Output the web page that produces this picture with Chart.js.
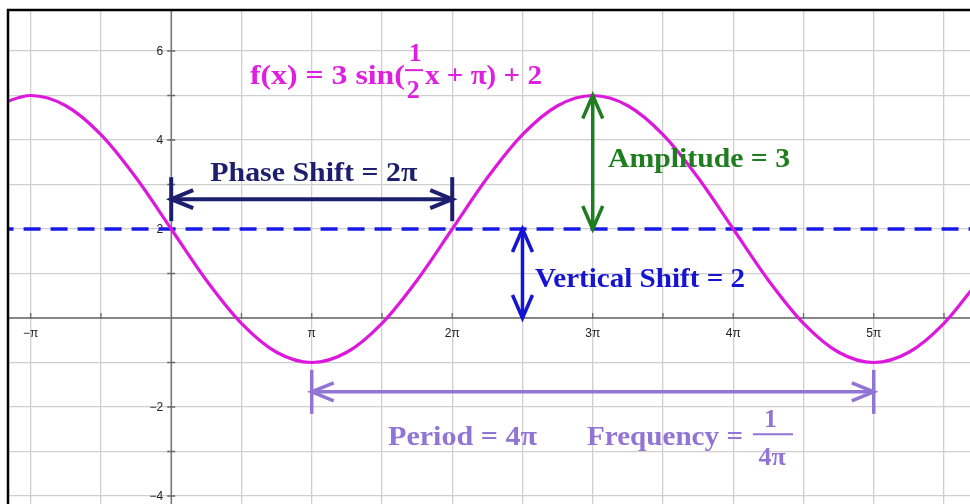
<!DOCTYPE html>
<html>
<head>
<meta charset="utf-8">
<script src="https://cdn.jsdelivr.net/npm/chart.js@4.4.1/dist/chart.umd.min.js"></script>
<style>
  html, body { margin: 0; padding: 0; background: #fff; }
  #wrap { width: 970px; height: 504px; position: relative; }
</style>
</head>
<body>
<div id="wrap"><canvas id="grafica"></canvas></div>
<script>
// Valores, x en unidades de pi
const xPi = [-1.25, -1, -0.75, -0.5, -0.25, 0, 0.25, 0.5, 0.75, 1, 1.25, 1.5, 1.75, 2, 2.25,
             2.5, 2.75, 3, 3.25, 3.5, 3.75, 4, 4.25, 4.5, 4.75, 5, 5.25, 5.5, 5.75];
const fx = [4.77, 5, 4.77, 4.12, 3.15, 2, 0.85, -0.12, -0.77, -1, -0.77, -0.12, 0.85, 2, 3.15,
            4.12, 4.77, 5, 4.77, 4.12, 3.15, 2, 0.85, -0.12, -0.77, -1, -0.77, -0.12, 0.85];

// línea media (desplazamiento vertical)
const midX = [-1.25, 5.75];
const midY = [2, 2];

// cuadrícula y etiquetas
const xGrid = [-1, -0.5, 0, 0.5, 1, 1.5, 2, 2.5, 3, 3.5, 4, 4.5, 5, 5.5];
const yGrid = [-4, -3, -2, -1, 0, 1, 2, 3, 4, 5, 6];
const xTickAt = [-1, 1, 2, 3, 4, 5];
const xTickLabels = ["\u2212\u03c0", "\u03c0", "2\u03c0", "3\u03c0", "4\u03c0", "5\u03c0"];
const yTickAt = [6, 4, 2, -2, -4];
const yTickLabels = ["6", "4", "2", "\u22122", "\u22124"];

// parámetros de la función
const amplitude = 3;
const verticalShift = 2;
const phaseShift = 2;
const period = 4;

const SERIF = '"Liberation Serif", "DejaVu Serif", serif';
const SANS = '"Liberation Sans", Arial, sans-serif';

// Texto en negrita ajustado a un ancho
function texto(ctx, str, x, y, ancho, size, color, centrado) {
    ctx.save();
    ctx.font = `bold ${size}px ${SERIF}`;
    ctx.fillStyle = color;
    ctx.textBaseline = "alphabetic";
    const w = ctx.measureText(str).width;
    const k = ancho ? ancho / w : 1;
    const x0 = centrado ? x - w * k / 2 : x;
    ctx.translate(x0, y);
    ctx.scale(k, 1);
    ctx.fillText(str, 0, 0);
    ctx.restore();
}

// Flecha con dos puntas (y barras opcionales en los extremos)
function flecha(ctx, x1, y1, x2, y2, color, lw, largo, medio, barra) {
    ctx.save();
    ctx.strokeStyle = color;
    ctx.lineWidth = lw;
    ctx.lineJoin = "miter";
    ctx.beginPath();
    ctx.moveTo(x1, y1);
    ctx.lineTo(x2, y2);
    ctx.stroke();
    const a = Math.atan2(y2 - y1, x2 - x1);
    [[x1, y1, a + Math.PI], [x2, y2, a]].forEach(([x, y, t]) => {
        const c = Math.cos(t), s = Math.sin(t);
        ctx.beginPath();
        ctx.moveTo(x - largo * c - medio * s, y - largo * s + medio * c);
        ctx.lineTo(x, y);
        ctx.lineTo(x - largo * c + medio * s, y - largo * s - medio * c);
        ctx.stroke();
        if (barra) {
            ctx.beginPath();
            ctx.moveTo(x + barra * s, y - barra * c);
            ctx.lineTo(x - barra * s, y + barra * c);
            ctx.stroke();
        }
    });
    ctx.restore();
}

function raya(ctx, x1, x2, y, color) {
    ctx.save();
    ctx.strokeStyle = color;
    ctx.lineWidth = 2;
    ctx.beginPath();
    ctx.moveTo(x1, y);
    ctx.lineTo(x2, y);
    ctx.stroke();
    ctx.restore();
}

// Ejes, marcas y etiquetas (debajo de las curvas)
const ejesPlugin = {
    id: "ejes",
    beforeDatasetsDraw(chart) {
        const { ctx, scales: { x, y }, chartArea: area } = chart;
        const x0 = x.getPixelForValue(0);
        const y0 = y.getPixelForValue(0);
        ctx.save();
        ctx.strokeStyle = "#6a6a6a";
        ctx.lineWidth = 1.3;
        ctx.beginPath();
        ctx.moveTo(area.left, y0); ctx.lineTo(area.right, y0);
        ctx.moveTo(x0, area.top); ctx.lineTo(x0, area.bottom);
        xGrid.forEach(v => {
            const px = x.getPixelForValue(v);
            ctx.moveTo(px, y0 - 5); ctx.lineTo(px, y0 + 1);
        });
        yGrid.forEach(v => {
            const py = y.getPixelForValue(v);
            ctx.moveTo(x0 - 4, py); ctx.lineTo(x0 + 4, py);
        });
        ctx.stroke();

        ctx.fillStyle = "#222";
        ctx.font = `12px ${SANS}`;
        ctx.textAlign = "center";
        ctx.textBaseline = "middle";
        xTickAt.forEach((v, i) => {
            ctx.fillText(xTickLabels[i], x.getPixelForValue(v), y0 + 16);
        });
        ctx.textAlign = "right";
        yTickAt.forEach((v, i) => {
            ctx.fillText(yTickLabels[i], x0 - 8, y.getPixelForValue(v) + 1);
        });
        ctx.restore();
    }
};

// Anotaciones de la función
const notasPlugin = {
    id: "notas",
    afterDatasetsDraw(chart) {
        const { ctx, scales: { x, y } } = chart;
        const X = v => x.getPixelForValue(v);
        const Y = v => y.getPixelForValue(v);

        // título f(x)
        const mag = "#e01ee0";
        texto(ctx, "f(x) = 3 sin(", X(0.56), Y(5.26), 155, 28, mag);
        texto(ctx, "1", X(1.736), Y(5.78), 0, 26, mag, true);
        raya(ctx, X(1.664), X(1.792), Y(5.57), mag);
        texto(ctx, "2", X(1.722), Y(4.94), 0, 26, mag, true);
        texto(ctx, "x + \u03c0) + 2", X(1.806), Y(5.26), 117, 28, mag);

        // desfase
        const navy = "#1e1e6e";
        flecha(ctx, X(0), Y(2.67), X(phaseShift), Y(2.67), navy, 4, 22, 9, 22);
        texto(ctx, "Phase Shift = 2\u03c0", X(0.278), Y(3.08), 207, 28, navy);

        // amplitud
        const verde = "#1e7d1e";
        flecha(ctx, X(3), Y(verticalShift + amplitude), X(3), Y(verticalShift), verde, 3.5, 23, 10);
        texto(ctx, "Amplitude = 3", X(3.109), Y(3.39), 182, 27, verde);

        // desplazamiento vertical
        const azul = "#1414d2";
        flecha(ctx, X(2.5), Y(verticalShift), X(2.5), Y(0), azul, 3.5, 23, 10);
        texto(ctx, "Vertical Shift = 2", X(2.589), Y(0.70), 210, 28, azul);

        // periodo y frecuencia
        const morado = "#9274d4";
        flecha(ctx, X(1), Y(-1.66), X(1 + period), Y(-1.66), morado, 3.5, 22, 9, 22);
        texto(ctx, "Period = 4\u03c0", X(1.543), Y(-2.86), 149, 27, morado);
        texto(ctx, "Frequency =", X(2.959), Y(-2.86), 156, 27, morado);
        texto(ctx, "1", X(4.265), Y(-2.45), 0, 26, morado, true);
        raya(ctx, X(4.14), X(4.425), Y(-2.61), morado);
        texto(ctx, "4\u03c0", X(4.277), Y(-3.30), 0, 26, morado, true);
    },
    afterDraw(chart) {
        // marco negro arriba e izquierda
        const { ctx } = chart;
        ctx.save();
        ctx.strokeStyle = "#000";
        ctx.lineWidth = 2.5;
        ctx.beginPath();
        ctx.moveTo(8, 504); ctx.lineTo(8, 10); ctx.lineTo(970, 10);
        ctx.stroke();
        ctx.restore();
    }
};

new Chart(document.getElementById("grafica"), {
    type: "scatter",
    data: {
        datasets: [
            {
                label: "f(x)",
                data: xPi.map((v, i) => ({ x: v, y: fx[i] })),
                showLine: true,
                borderColor: "#dd18dd",
                borderWidth: 3.2,
                pointRadius: 0,
                cubicInterpolationMode: "monotone",
                order: 1
            },
            {
                label: "y = 2",
                data: midX.map((v, i) => ({ x: v, y: midY[i] })),
                showLine: true,
                borderColor: "#1a1ae6",
                borderWidth: 3.5,
                borderDash: [17, 10],
                borderDashOffset: 26,
                pointRadius: 0,
                order: 2
            }
        ]
    },
    options: {
        responsive: true,
        maintainAspectRatio: false,
        animation: false,
        layout: { padding: { left: 9, top: 11, right: 0, bottom: 0 } },
        plugins: {
            legend: { display: false },
            tooltip: { enabled: false }
        },
        scales: {
            x: {
                type: "linear",
                min: -1.1544,
                max: 5.685,
                afterBuildTicks: s => { s.ticks = xGrid.map(v => ({ value: v })); },
                ticks: { display: false },
                border: { display: false },
                grid: { color: "#cfcfcf", lineWidth: 1.3, drawTicks: false }
            },
            y: {
                type: "linear",
                min: -4.18,
                max: 6.899,
                afterBuildTicks: s => { s.ticks = yGrid.map(v => ({ value: v })); },
                ticks: { display: false },
                border: { display: false },
                grid: { color: "#cfcfcf", lineWidth: 1.3, drawTicks: false }
            }
        }
    },
    plugins: [ejesPlugin, notasPlugin]
});
</script>
</body>
</html>
